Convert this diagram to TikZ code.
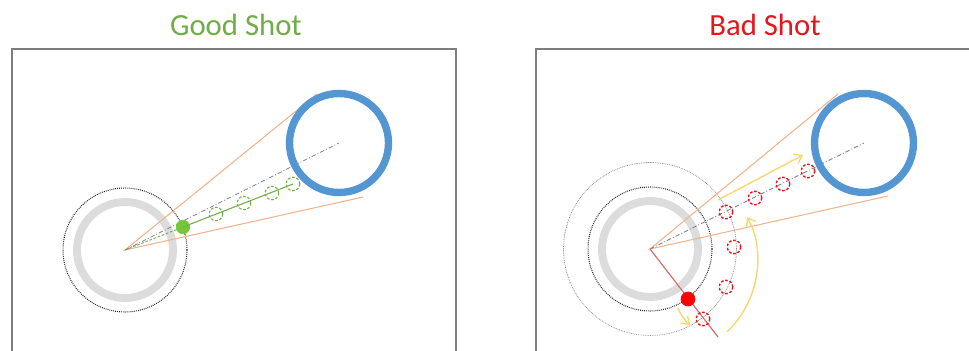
\documentclass[tikz,border=0pt]{standalone}
\usepackage{fontspec}
\setmainfont{Carlito}
\usetikzlibrary{arrows.meta}

\definecolor{goodgreen}{RGB}{112,173,71}
\definecolor{ballgreen}{RGB}{118,198,58}
\definecolor{badred}{RGB}{228,22,28}
\definecolor{ringgray}{RGB}{220,220,220}
\definecolor{holeblue}{RGB}{84,150,210}
\definecolor{lineorange}{RGB}{240,180,140}
\definecolor{aimgray}{RGB}{120,128,145}
\definecolor{pathred}{RGB}{205,115,115}
\definecolor{arrowyellow}{RGB}{248,216,110}
\definecolor{framegray}{RGB}{125,125,125}

\begin{document}
\begin{tikzpicture}[x=0.02cm,y=-0.02cm]
\useasboundingbox (0,0) rectangle (969,351);

% Titles above the two tables
\tikzstyle{every node}=[font=\fontsize{17.5}{20}\selectfont,anchor=center];
\node[text=goodgreen] (good) at (236,25) {Good Shot};
\node[text=badred] (bad) at (765,25) {Bad Shot};

% Table frames
\draw[framegray,line width=0.8pt] (12,351) -- (12,49) -- (456,49) -- (456,351);
\draw[framegray,line width=0.8pt] (536,351) -- (536,49) -- (969,49);

% Centres of the two holes
\coordinate (hc1) at (339,143);
\coordinate (hc2) at (864,143);

% ---------- Good shot ----------
\tikzstyle{every node}=[draw,shape=circle,inner sep=0pt,anchor=center];
\node[ringgray,line width=4.5pt,minimum size=1.92cm] (p1) at (125,250) {};
\node[black!85,line width=0.6pt,dash pattern=on 0.5pt off 0.6pt,minimum size=2.48cm] (d1) at (125,250) {};

% Lines of the shot
\coordinate (t1a) at (317,94);
\coordinate (t1b) at (363,197);
\draw[lineorange,line width=0.6pt] (t1a) -- (p1.center) -- (t1b);
\draw[aimgray,line width=0.5pt,dash pattern=on 2.5pt off 1.2pt on 0.5pt off 1.2pt] (p1.center) -- (hc1);

\node[holeblue,line width=4.2pt,minimum size=1.98cm] (h1) at (hc1) {};

% Path of the ball
\node[ballgreen,fill=ballgreen,minimum size=0.27cm] (b1) at (183,227) {};
\draw[goodgreen,line width=0.5pt,dash pattern=on 1.5pt off 1pt] (p1.center) -- (b1);
\draw[goodgreen,line width=0.6pt] (b1.center) -- (293,184);
\tikzstyle{every node}=[draw=goodgreen,shape=circle,line width=0.6pt,dash pattern=on 1.5pt off 1pt,minimum size=0.27cm,inner sep=0pt,anchor=center];
\foreach \p [count=\idx] in {(216,214),(244,203),(272,193),(293,184)}
  \node (g\idx) at \p {};

% ---------- Bad shot ----------
\tikzstyle{every node}=[draw,shape=circle,inner sep=0pt,anchor=center];
\node[ringgray,line width=4.5pt,minimum size=1.92cm] (p2) at (650,249) {};
\node[black!85,line width=0.6pt,dash pattern=on 0.5pt off 0.6pt,minimum size=2.48cm] (d2) at (650,249) {};
\node[black!45,line width=0.4pt,dash pattern=on 0.5pt off 0.5pt,minimum size=3.46cm] (o2) at (650,249) {};

% Lines of the shot
\coordinate (t2a) at (838,94);
\coordinate (t2b) at (888,196);
\coordinate (r2) at (718,337);
\draw[lineorange,line width=0.6pt] (t2a) -- (p2.center) -- (t2b);
\draw[aimgray,line width=0.5pt,dash pattern=on 2.5pt off 1.2pt on 0.5pt off 1.2pt] (p2.center) -- (hc2);
\draw[pathred,line width=0.7pt] (p2.center) -- (r2);

\node[holeblue,line width=4.2pt,minimum size=1.98cm] (h2) at (hc2) {};

% Turning arrows
\coordinate (y1a) at (718,200);
\coordinate (y1b) at (803,155);
\coordinate (y2a) at (727,332);
\coordinate (y2b) at (747,217);
\coordinate (y3a) at (678,308);
\coordinate (y3b) at (690,325);
\draw[arrowyellow,line width=0.8pt,-{Straight Barb[length=4pt,width=6pt]}] (y1a) -- (y1b);
\draw[arrowyellow,line width=0.8pt,-{Straight Barb[length=4pt,width=6pt]}] (y2a) .. controls (763,297) and (764,246) .. (y2b);
\draw[arrowyellow,line width=0.8pt,-{Straight Barb[length=4pt,width=6pt]}] (y3a) to[bend right=12] (y3b);

% Ball and its ghosts
\node[badred,fill=red,minimum size=0.28cm] (b2) at (688,299) {};
\tikzstyle{every node}=[draw=badred,shape=circle,line width=0.8pt,dash pattern=on 1.5pt off 1pt,minimum size=0.27cm,inner sep=0pt,anchor=center];
\foreach \p [count=\idx] in {(726,212),(755,198),(783,184),(808,171)}
  \node (a\idx) at \p {};
\foreach \p [count=\idx] in {(734,247),(726,287),(703,319)}
  \node (s\idx) at \p {};

\end{tikzpicture}
\end{document}
